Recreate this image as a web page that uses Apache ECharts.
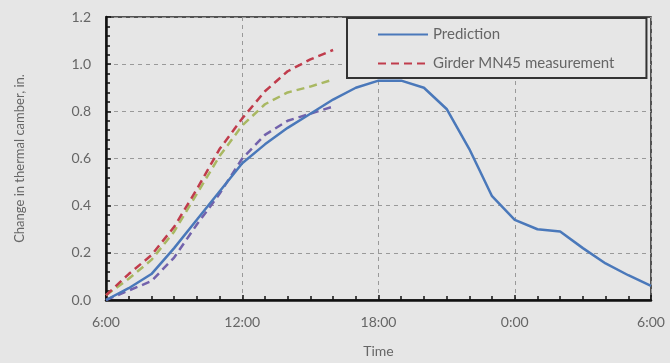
<!DOCTYPE html>
<html>
<head>
<meta charset="utf-8">
<script src="https://cdn.jsdelivr.net/npm/echarts@6/dist/echarts.min.js"></script>
<style>
  html, body { margin: 0; padding: 0; background: #e6e6e6; }
  #chart { width: 670px; height: 363px; }
</style>
</head>
<body>
<div id="chart"></div>
<script>
// hours after 6:00
const hours = [0,1,2,3,4,5,6,7,8,9,10,11,12,13,14,15,16,17,18,19,20,21,22,23,24];
const prediction = [0.0,0.05,0.11,0.22,0.34,0.46,0.58,0.66,0.73,0.79,0.85,0.9,0.93,0.93,0.9,0.81,0.64,0.44,0.34,0.3,0.29,0.22,0.155,0.105,0.06];

const measHours = [0,1,2,3,4,5,6,7,8,9,10];
const girderRed = [0.02,0.11,0.19,0.31,0.47,0.64,0.77,0.885,0.97,1.02,1.06];
const girderGreen = [0.02,0.09,0.17,0.29,0.45,0.61,0.74,0.83,0.88,0.905,0.935];
const girderPurple = [0.0,0.04,0.08,0.18,0.32,0.45,0.6,0.7,0.76,0.79,0.82];

const yTicks = [0, 0.2, 0.4, 0.6, 0.8, 1.0, 1.2];

const zip = (xs, ys) => xs.map((x, i) => [x, ys[i]]);
const fontFamily = 'Lato, "Open Sans", sans-serif';
const textColor = '#666';

const chart = echarts.init(document.getElementById('chart'));

chart.setOption({
  backgroundColor: '#e6e6e6',
  animation: false,
  grid: {
    left: 106, right: 19, top: 17, bottom: 61,
    show: true, borderColor: '#222', borderWidth: 1.5
  },
  legend: {
    data: ['Prediction', 'Girder MN45 measurement'],
    orient: 'vertical',
    left: 347, top: 18,
    padding: [9, 32, 7, 30],
    itemWidth: 50, itemHeight: 14, itemGap: 14,
    backgroundColor: '#e6e6e6',
    borderColor: '#333', borderWidth: 2,
    itemStyle: { opacity: 0 },
    textStyle: { fontFamily, fontSize: 15, color: textColor }
  },
  xAxis: {
    type: 'value',
    min: 0, max: 24, interval: 6,
    name: 'Time',
    nameLocation: 'middle',
    nameGap: 44,
    nameTextStyle: { fontFamily, fontSize: 14, color: textColor },
    axisLine: { lineStyle: { color: '#111', width: 2.5 } },
    axisTick: { inside: true, length: 5, lineStyle: { color: '#111', width: 1.5 } },
    minorTick: { show: true, splitNumber: 6, length: 4, lineStyle: { color: '#111', width: 1.5 } },
    axisLabel: {
      fontFamily, fontSize: 14, color: textColor, margin: 15,
      formatter: v => ((v + 6) % 24) + ':00'
    },
    splitLine: { show: true, lineStyle: { color: '#999', type: [4, 4], width: 1 } }
  },
  yAxis: {
    type: 'value',
    min: 0, max: 1.2, interval: 0.2,
    name: 'Change in thermal camber, in.',
    nameLocation: 'middle',
    nameGap: 80,
    nameTextStyle: { fontFamily, fontSize: 13, color: textColor },
    axisLine: { show: true, lineStyle: { color: '#111', width: 2.5 } },
    axisTick: { show: true, inside: true, length: 5, lineStyle: { color: '#111', width: 1.5 } },
    minorTick: { show: true, splitNumber: 5, length: 4, lineStyle: { color: '#111', width: 1.5 } },
    axisLabel: {
      fontFamily, fontSize: 14, color: textColor, margin: 15,
      formatter: v => yTicks.includes(Math.round(v * 10) / 10) ? v.toFixed(1) : ''
    },
    splitLine: { show: true, lineStyle: { color: '#999', type: [4, 4], width: 1 } }
  },
  series: [
    {
      name: 'Girder 3', type: 'line', symbol: 'none', z: 3,
      data: zip(measHours, girderGreen),
      lineStyle: { color: '#a9b862', width: 2.5, type: [8, 5] },
      itemStyle: { color: '#a9b862' }
    },
    {
      name: 'Girder MN45 measurement', type: 'line', symbol: 'none', z: 4,
      data: zip(measHours, girderRed),
      lineStyle: { color: '#c03c4c', width: 2.5, type: [8, 5] },
      itemStyle: { color: '#c03c4c' }
    },
    {
      name: 'Girder 2', type: 'line', symbol: 'none', z: 3,
      data: zip(measHours, girderPurple),
      lineStyle: { color: '#7262ac', width: 2.5, type: [8, 5] },
      itemStyle: { color: '#7262ac' }
    },
    {
      name: 'Prediction', type: 'line', symbol: 'none', z: 5,
      data: zip(hours, prediction),
      lineStyle: { color: '#4a78ba', width: 2.5 },
      itemStyle: { color: '#4a78ba' }
    }
  ]
});
</script>
</body>
</html>
